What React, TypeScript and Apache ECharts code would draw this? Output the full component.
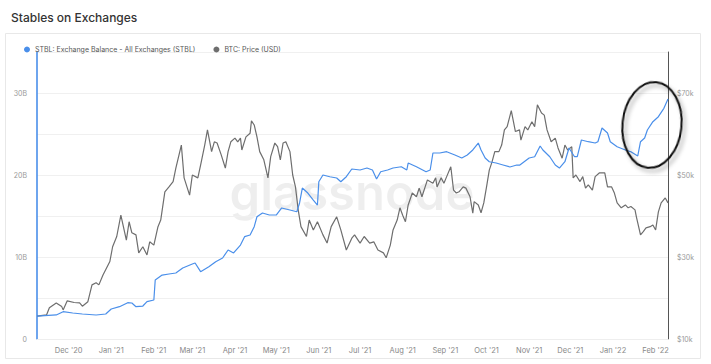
import React, { useEffect, useRef } from "react";
import * as echarts from "echarts";

const titleText = "Stables on Exchanges";
const seriesNames = ["STBL: Exchange Balance - All Exchanges (STBL)", "BTC: Price (USD)"];

const btcDates = ['2020-11-08','2020-11-15','2020-11-17','2020-11-22','2020-11-26','2020-11-27','2020-11-30','2020-12-05','2020-12-09','2020-12-11','2020-12-15','2020-12-18','2020-12-21','2020-12-23','2020-12-26','2020-12-31','2021-01-02','2021-01-05','2021-01-08','2021-01-12','2021-01-14','2021-01-16','2021-01-19','2021-01-21','2021-01-24','2021-01-27','2021-01-29','2021-02-01','2021-02-04','2021-02-06','2021-02-09','2021-02-12','2021-02-15','2021-02-17','2021-02-21','2021-02-23','2021-02-27','2021-03-01','2021-03-05','2021-03-07','2021-03-10','2021-03-12','2021-03-15','2021-03-17','2021-03-19','2021-03-22','2021-03-25','2021-03-27','2021-03-29','2021-04-01','2021-04-03','2021-04-05','2021-04-06','2021-04-09','2021-04-12','2021-04-13','2021-04-15','2021-04-17','2021-04-19','2021-04-22','2021-04-25','2021-04-27','2021-04-30','2021-05-02','2021-05-04','2021-05-06','2021-05-08','2021-05-11','2021-05-13','2021-05-15','2021-05-17','2021-05-19','2021-05-23','2021-05-25','2021-05-28','2021-05-31','2021-06-04','2021-06-07','2021-06-10','2021-06-14','2021-06-17','2021-06-21','2021-06-25','2021-06-27','2021-07-01','2021-07-04','2021-07-08','2021-07-11','2021-07-14','2021-07-18','2021-07-20','2021-07-23','2021-07-25','2021-07-28','2021-07-30','2021-08-01','2021-08-03','2021-08-05','2021-08-08','2021-08-11','2021-08-13','2021-08-15','2021-08-19','2021-08-23','2021-08-25','2021-08-26','2021-08-29','2021-08-31','2021-09-02','2021-09-05','2021-09-07','2021-09-09','2021-09-11','2021-09-14','2021-09-16','2021-09-19','2021-09-21','2021-09-22','2021-09-25','2021-09-27','2021-09-29','2021-10-01','2021-10-03','2021-10-05','2021-10-07','2021-10-10','2021-10-12','2021-10-14','2021-10-16','2021-10-19','2021-10-22','2021-10-25','2021-10-26','2021-10-29','2021-10-31','2021-11-03','2021-11-05','2021-11-07','2021-11-10','2021-11-12','2021-11-14','2021-11-17','2021-11-20','2021-11-22','2021-11-25','2021-11-27','2021-11-29','2021-12-02','2021-12-03','2021-12-05','2021-12-08','2021-12-10','2021-12-12','2021-12-14','2021-12-17','2021-12-19','2021-12-22','2021-12-26','2021-12-28','2021-12-31','2022-01-02','2022-01-04','2022-01-07','2022-01-10','2022-01-12','2022-01-14','2022-01-17','2022-01-18','2022-01-21','2022-01-23','2022-01-25','2022-01-28','2022-01-30','2022-02-01','2022-02-03','2022-02-05','2022-02-08','2022-02-10'];

// BTC price in $k
const btcValues = [15.6,15.9,17.6,18.8,17.9,17.1,19.3,18.9,18.8,18.0,19.1,23.2,23.7,23.2,25.6,28.9,32.5,35.0,40.2,34.1,38.6,35.9,35.4,31.0,32.5,30.5,33.7,32.9,37.4,39.0,45.9,47.1,48.4,51.7,57.3,49.3,45.1,50.0,49.3,52.4,57.3,61.0,55.7,58.1,57.8,54.9,51.7,55.7,58.1,59.0,58.1,59.0,56.1,59.3,60.2,63.2,62.2,59.3,55.7,53.7,49.3,54.5,57.8,56.9,53.7,57.8,58.1,55.7,50.0,47.1,41.5,37.4,35.0,39.0,36.6,38.6,35.4,33.4,37.4,39.8,36.6,31.7,34.6,35.4,33.4,35.0,33.4,33.7,31.7,31.0,29.8,32.9,36.6,39.0,42.0,40.2,38.6,42.7,45.6,44.7,46.8,44.7,48.8,48.0,49.3,47.1,49.3,48.0,49.6,52.0,46.3,45.6,45.9,47.1,46.8,44.7,40.7,43.5,42.7,40.8,43.2,47.1,51.2,53.2,55.7,55.7,57.3,61.0,61.8,65.7,60.6,61.0,58.5,61.8,61.0,63.0,61.8,67.1,65.1,64.6,61.0,58.1,59.0,56.6,54.1,57.3,56.1,56.9,49.3,50.0,48.4,49.6,46.8,47.6,46.3,49.6,50.5,50.5,47.1,47.1,45.6,43.2,42.0,42.7,42.0,42.3,41.5,39.8,35.4,36.2,37.1,37.4,37.8,36.6,41.0,43.2,44.4,43.2];

const stblDates = ['2020-11-08','2020-11-22','2020-11-27','2020-12-04','2020-12-11','2020-12-21','2020-12-28','2021-01-01','2021-01-07','2021-01-13','2021-01-16','2021-01-19','2021-01-24','2021-01-27','2021-02-01','2021-02-02','2021-02-07','2021-02-12','2021-02-17','2021-02-22','2021-03-01','2021-03-03','2021-03-07','2021-03-13','2021-03-18','2021-03-23','2021-03-27','2021-03-31','2021-04-05','2021-04-08','2021-04-12','2021-04-15','2021-04-17','2021-04-21','2021-04-26','2021-05-01','2021-05-05','2021-05-11','2021-05-16','2021-05-18','2021-05-20','2021-05-24','2021-05-28','2021-05-31','2021-06-01','2021-06-04','2021-06-09','2021-06-14','2021-06-17','2021-06-21','2021-06-25','2021-07-01','2021-07-06','2021-07-10','2021-07-13','2021-07-16','2021-07-21','2021-07-25','2021-07-31','2021-08-04','2021-08-05','2021-08-11','2021-08-18','2021-08-21','2021-08-23','2021-08-28','2021-09-02','2021-09-08','2021-09-13','2021-09-17','2021-09-21','2021-09-25','2021-09-27','2021-09-30','2021-10-03','2021-10-08','2021-10-13','2021-10-18','2021-10-23','2021-10-25','2021-11-01','2021-11-05','2021-11-09','2021-11-11','2021-11-16','2021-11-20','2021-11-23','2021-11-27','2021-11-30','2021-12-04','2021-12-06','2021-12-09','2021-12-14','2021-12-19','2021-12-21','2021-12-24','2021-12-28','2021-12-30','2022-01-04','2022-01-10','2022-01-14','2022-01-19','2022-01-21','2022-01-24','2022-01-26','2022-01-30','2022-02-03','2022-02-07','2022-02-10'];

// Exchange balance in billions
const stblValues = [2.80,2.93,3.33,3.17,3.05,2.93,3.05,3.66,3.94,4.43,4.39,3.94,4.02,4.55,4.76,7.20,7.80,7.93,8.05,8.66,9.15,9.27,8.21,8.82,9.43,9.88,10.85,10.49,11.46,12.48,12.68,13.70,14.91,15.37,15.12,15.12,15.98,15.73,15.52,16.59,18.41,17.80,16.95,16.34,19.18,20.0,19.79,19.63,19.18,19.79,20.73,20.61,20.85,20.61,19.51,20.40,20.61,20.85,21.01,20.61,21.46,21.01,20.40,20.61,22.68,22.68,22.84,22.44,22.07,22.44,23.05,23.90,23.05,22.07,21.62,21.46,21.22,20.98,21.22,21.2,22.07,22.23,23.54,23.05,22.23,21.22,20.85,21.62,23.29,22.23,22.23,24.27,24.06,23.90,24.06,25.73,25.12,24.06,23.45,23.05,22.84,22.32,24.06,24.51,25.49,26.50,27.11,28.13,29.27];

const xTickDates = ['2020-12-01','2021-01-01','2021-02-01','2021-03-01','2021-04-01','2021-05-01','2021-06-01','2021-07-01','2021-08-01','2021-09-01','2021-10-01','2021-11-01','2021-12-01','2022-01-01','2022-02-01'];
const xTickLabels = ["Dec '20","Jan '21","Feb '21","Mar '21","Apr '21","May '21","Jun '21","Jul '21","Aug '21","Sep '21","Oct '21","Nov '21","Dec '21","Jan '22","Feb '22"];

const xMin = '2020-11-08';
const xMax = '2022-02-10';

const FONT = "Inter, 'Noto Sans', sans-serif";
const BLUE = '#4a8fea';
const GRAY = '#6e6e6e';

function toTs(s: string): number {
  const [y, m, d] = s.split('-').map(Number);
  return Date.UTC(y, m - 1, d);
}

export default function App() {
  const ref = useRef<HTMLDivElement>(null);
  useEffect(() => {
    if (!ref.current) return;
    const chart = echarts.init(ref.current, undefined, { renderer: 'svg' });
    const tickTs = xTickDates.map(toTs);
    const labelMap: Record<string, string> = {};
    tickTs.forEach((t, i) => { labelMap[String(t)] = xTickLabels[i]; });

    chart.setOption({
      animation: false,
      backgroundColor: '#ffffff',
      title: {
        text: titleText,
        left: 6,
        top: 6,
        textStyle: { fontFamily: FONT, fontSize: 12, fontWeight: 500, color: '#333' },
      },
      legend: {
        left: 19,
        top: 41,
        itemWidth: 6,
        itemHeight: 6,
        itemGap: 18,
        icon: 'circle',
        data: seriesNames,
        textStyle: { fontFamily: FONT, fontSize: 7, color: '#555' },
      },
      grid: { left: 37, right: 43, top: 52, bottom: 25, containLabel: false },
      graphic: [
        {
          type: 'rect',
          silent: true,
          z: -10,
          shape: { x: 5.5, y: 33.5, width: 695, height: 325 },
          style: { fill: 'none', stroke: '#e8e8e8', lineWidth: 1 },
        },
        {
          type: 'text',
          silent: true,
          z: -5,
          x: 352,
          y: 192,
          style: {
            text: 'glassnode',
            fontFamily: FONT,
            fontSize: 49,
            fontWeight: 600,
            fill: 'rgba(0,0,0,0.065)',
            align: 'center',
            verticalAlign: 'middle',
          },
        },
        {
          type: 'ellipse',
          silent: true,
          z: 100,
          x: 652,
          y: 125,
          rotation: -0.1,
          shape: { cx: 0, cy: 0, rx: 29.5, ry: 43 },
          style: {
            fill: 'none',
            stroke: '#111',
            lineWidth: 2,
            shadowBlur: 4,
            shadowColor: 'rgba(0,0,0,0.35)',
            shadowOffsetX: 3,
            shadowOffsetY: 3,
          },
        },
      ],
      xAxis: {
        type: 'value',
        min: toTs(xMin),
        max: toTs(xMax),
        axisLine: { show: true, lineStyle: { color: '#eeeeee' } },
        axisTick: { show: false },
        splitLine: { show: false },
        axisLabel: {
          customValues: tickTs,
          formatter: (v: number) => labelMap[String(v)] || '',
          fontFamily: FONT,
          fontSize: 7.5,
          color: '#888',
          margin: 7,
        },
      },
      yAxis: [
        {
          type: 'value',
          min: 0,
          max: 35,
          interval: 5,
          position: 'left',
          axisLine: { show: true, lineStyle: { color: BLUE, width: 1.6 } },
          axisTick: { show: false },
          splitLine: { show: true, lineStyle: { color: '#f0f0f0', width: 1 } },
          axisLabel: {
            fontFamily: FONT,
            fontSize: 7,
            color: '#999',
            margin: 10,
            formatter: (v: number) => (v === 0 ? '0' : v % 10 === 0 ? `${v}B` : ''),
          },
        },
        {
          type: 'value',
          min: 10,
          max: 80,
          interval: 10,
          position: 'right',
          axisLine: { show: true, lineStyle: { color: '#555', width: 1 } },
          axisTick: { show: false },
          splitLine: { show: false },
          axisLabel: {
            fontFamily: FONT,
            fontSize: 7,
            color: '#999',
            margin: 9,
            formatter: (v: number) => ((v - 10) % 20 === 0 ? `$${v}k` : ''),
          },
        },
      ],
      series: [
        {
          name: seriesNames[0],
          type: 'line',
          yAxisIndex: 0,
          showSymbol: false,
          symbol: 'none',
          color: BLUE,
          lineStyle: { color: BLUE, width: 1.2 },
          z: 4,
          data: stblDates.map((d, i) => [toTs(d), stblValues[i]]),
        },
        {
          name: seriesNames[1],
          type: 'line',
          yAxisIndex: 1,
          showSymbol: false,
          symbol: 'none',
          color: GRAY,
          lineStyle: { color: GRAY, width: 1.2 },
          z: 3,
          data: btcDates.map((d, i) => [toTs(d), btcValues[i]]),
        },
      ],
    });
    return () => chart.dispose();
  }, []);

  return (
    <div
      ref={ref}
      style={{ position: 'fixed', left: 0, top: 0, width: 711, height: 364, background: '#fff' }}
    />
  );
}
